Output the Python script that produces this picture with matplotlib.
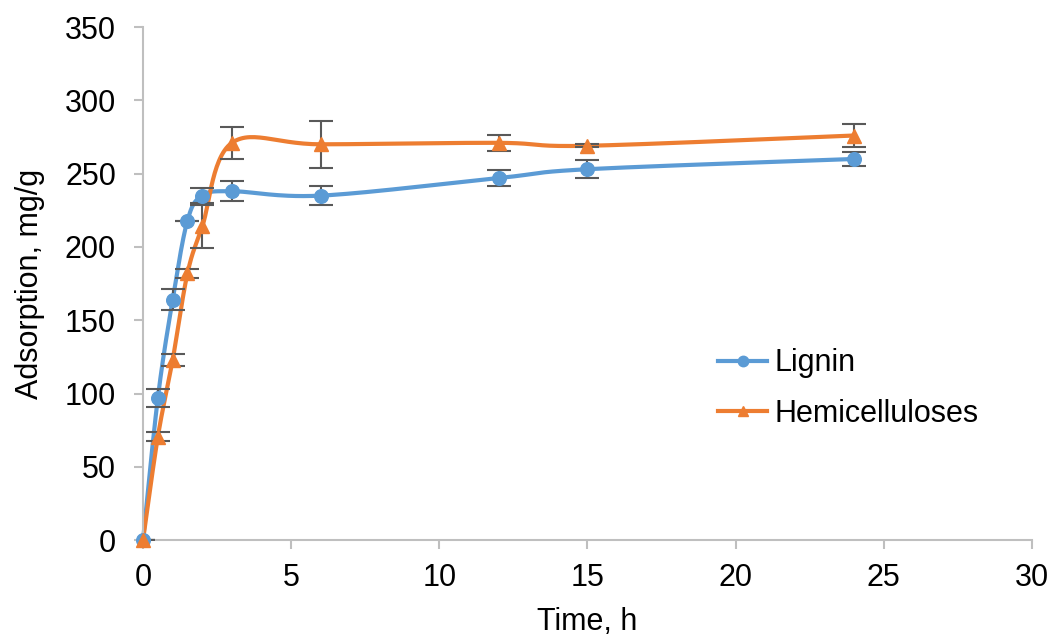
"""Adsorption kinetics of lignin and hemicelluloses (smoothed Excel-style lines)."""

import matplotlib
matplotlib.use("Agg")
import matplotlib.pyplot as plt
import numpy as np

time_h = [0, 0.5, 1, 1.5, 2, 3, 6, 12, 15, 24]
lignin = [0, 97, 164, 218, 235, 238, 235, 247, 253, 260]
lignin_err = [0, 6, 7, 0, 5, 7, 6.5, 5.5, 6, 5]
hemi = [0, 70.5, 123, 182, 214, 271, 270, 271, 269, 276]
hemi_err = [0, 3, 4, 3, 14.5, 11, 16, 5.5, 1, 8]

BLUE = "#5B9BD5"
ORANGE = "#ED7D31"
GREY = "#BFBFBF"
FS = 22

plt.rcParams["font.family"] = ["Liberation Sans", "DejaVu Sans"]


def smooth_curve(ax, xs, ys, n=30):
    # Excel-like smoothing: cubic Bezier with Catmull-Rom tangents in display space
    pts = ax.transData.transform(np.column_stack([xs, ys]))
    out = [pts[0]]
    for i in range(len(pts) - 1):
        p0 = pts[i - 1] if i > 0 else pts[i]
        p1, p2 = pts[i], pts[i + 1]
        p3 = pts[i + 2] if i + 2 < len(pts) else pts[i + 1]
        c1 = p1 + (p2 - p0) / 6
        c2 = p2 - (p3 - p1) / 6
        t = np.linspace(0, 1, n)[1:, None]
        seg = (1 - t) ** 3 * p1 + 3 * (1 - t) ** 2 * t * c1 + 3 * (1 - t) * t ** 2 * c2 + t ** 3 * p2
        out.extend(seg)
    return ax.transData.inverted().transform(np.array(out))


fig = plt.figure(figsize=(10.54, 6.37), dpi=100)
ax = fig.add_axes([0.1357, 0.152, 0.8433, 0.8056])
ax.set_xlim(0, 30)
ax.set_ylim(0, 350)

for ys, err, color, marker, label in [
    (lignin, lignin_err, BLUE, "o", "Lignin"),
    (hemi, hemi_err, ORANGE, "^", "Hemicelluloses"),
]:
    curve = smooth_curve(ax, time_h, ys)
    ax.plot(curve[:, 0], curve[:, 1], color=color, lw=3, zorder=2, clip_on=False)
    ax.errorbar(time_h, ys, yerr=err, fmt="none", ecolor="#595959", elinewidth=1.5,
                capsize=8.5, capthick=1.5, zorder=3)
    ax.plot(time_h, ys, linestyle="none", marker=marker, markersize=9.8, color=color,
            zorder=4, clip_on=False)
    ax.plot([], [], color=color, lw=3, marker=marker, markersize=7.5, label=label)

ax.set_xticks(range(0, 31, 5))
ax.set_yticks(range(0, 351, 50))
for side in ["top", "right"]:
    ax.spines[side].set_visible(False)
for side in ["left", "bottom"]:
    ax.spines[side].set_color(GREY)
    ax.spines[side].set_linewidth(1.5)
ax.tick_params(colors=GREY, labelcolor="black", labelsize=FS, length=6.5, width=1.5)
ax.tick_params(axis="y", pad=13)
ax.tick_params(axis="x", pad=10)
ax.set_xlabel("Time, h", fontsize=FS)
ax.set_ylabel("Adsorption, mg/g", fontsize=FS)
ax.xaxis.set_label_coords(0.5, -0.13)
ax.yaxis.set_label_coords(-0.11, 0.5)

ax.legend(loc="center left", bbox_to_anchor=(0.63, 0.295), frameon=False, fontsize=FS,
          handlelength=1.6, handletextpad=0.25, labelspacing=0.68, borderpad=0)

fig.savefig("out.png", dpi=100)
